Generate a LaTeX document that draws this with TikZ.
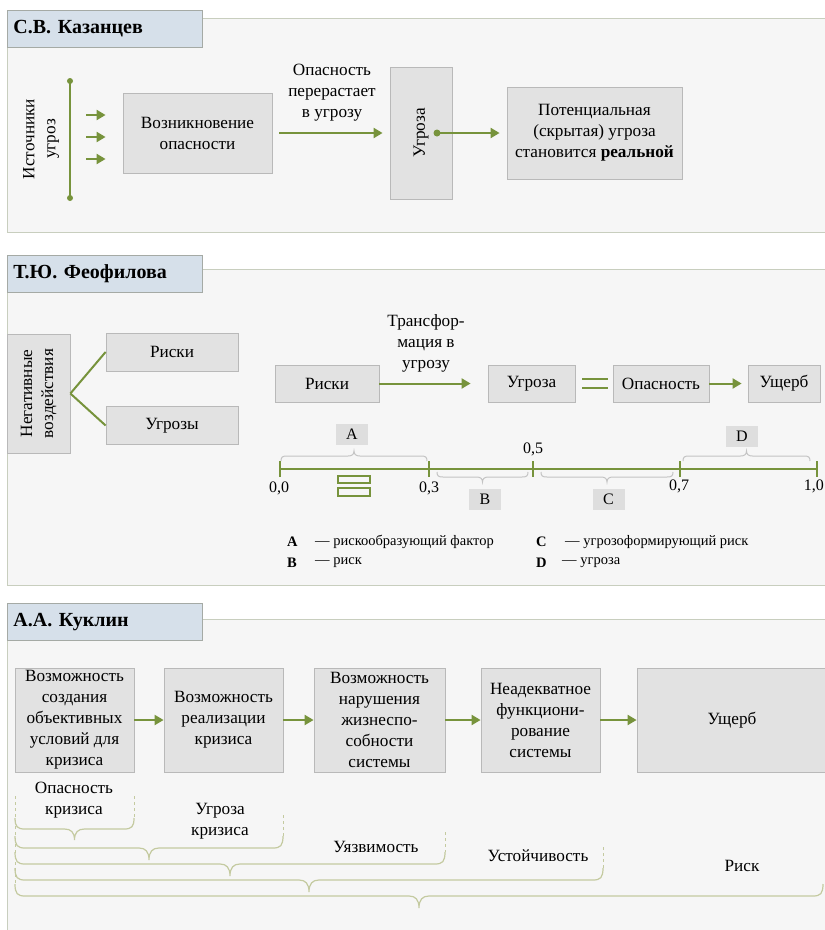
\documentclass[tikz,border=0pt]{standalone}
\usepackage{fontspec}
\setmainfont{Liberation Serif}
\usepackage{xcolor}
\usetikzlibrary{arrows.meta}

\definecolor{arrowgreen}{RGB}{119,147,60}
\definecolor{boxfill}{RGB}{226,226,226}
\definecolor{boxline}{RGB}{185,185,185}
\definecolor{hdrfill}{RGB}{214,224,234}
\definecolor{hdrline}{RGB}{165,170,165}
\definecolor{panelfill}{RGB}{246,246,246}
\definecolor{panelline}{RGB}{200,206,190}
\definecolor{bracegreen}{RGB}{196,202,160}
\definecolor{bracegray}{RGB}{195,195,195}
\definecolor{tagfill}{RGB}{222,222,222}

% curly brace: [style] {left x}{right x}{y of ends}{depth}{curl}
\newcommand{\curly}[6][]{%
  \draw[#1] (#2,#4)
    .. controls (#2,{#4+0.8*(#5)}) and ({#2+0.25*#6},{#4+(#5)}) .. ({#2+#6},{#4+(#5)})
    -- ({(#2+#3)/2-#6},{#4+(#5)})
    .. controls ({(#2+#3)/2-0.35*#6},{#4+(#5)}) and ({(#2+#3)/2},{#4+1.3*(#5)}) .. ({(#2+#3)/2},{#4+2*(#5)})
    .. controls ({(#2+#3)/2},{#4+1.3*(#5)}) and ({(#2+#3)/2+0.35*#6},{#4+(#5)}) .. ({(#2+#3)/2+#6},{#4+(#5)})
    -- ({#3-#6},{#4+(#5)})
    .. controls ({#3-0.25*#6},{#4+(#5)}) and (#3,{#4+0.8*(#5)}) .. (#3,#4);}

\begin{document}
\begin{tikzpicture}[x=1pt, y=-1pt,
        gbox/.style={draw=boxline, fill=boxfill, align=center, inner sep=0pt, line width=0.8pt,
            font=\fontsize{17.2}{21}\selectfont},
        hdr/.style={draw=hdrline, fill=hdrfill, anchor=north west, minimum width=195, minimum height=37,
            text width=183, align=left, inner sep=6pt, line width=0.8pt, font=\fontsize{20}{22}\bfseries\selectfont},
        txt/.style={align=center, inner sep=0pt, font=\fontsize{17.2}{21}\selectfont},
        lbl/.style={inner sep=0pt, font=\fontsize{16}{18}\selectfont},
        leg/.style={anchor=west, inner sep=0pt, font=\fontsize{14.5}{17}\selectfont},
        tag/.style={fill=tagfill, minimum width=32, minimum height=21, inner sep=0pt, font=\fontsize{16}{18}\selectfont},
        garrow/.style={draw=arrowgreen, line width=2pt, -{Triangle[length=9pt, width=10pt]}},
        gline/.style={draw=arrowgreen, line width=2pt},
        kbr/.style={draw=bracegreen, line width=1.2pt},
        sbr/.style={draw=bracegray, line width=1pt},
        kdash/.style={draw=bracegreen, line width=1pt, dashed}
    ]
    \path[use as bounding box, fill=white] (0,0) rectangle (825,930);

    \fill[panelfill] (7,18) rectangle (825,232);
    \draw[panelline, line width=1pt] (825,18) -- (7,18) -- (7,232) -- (825,232);
    \fill[panelfill] (7,269) rectangle (825,585);
    \draw[panelline, line width=1pt] (825,269) -- (7,269) -- (7,585) -- (825,585);
    \fill[panelfill] (7,619) rectangle (825,930);
    \draw[panelline, line width=1pt] (825,619) -- (7,619) -- (7,930);

    \node[hdr] (kaz) at (7,10) {С.В. Казанцев};
    \node[hdr] (feo) at (7,255) {Т.Ю. Феофилова};
    \node[hdr] (kuk) at (7,603) {А.А. Куклин};

    \node[txt, rotate=90] (src) at (41,139) {Источники\\угроз};
    \coordinate (srctop) at (70,81);
    \coordinate (srcbot) at (70,198);
    \draw[gline] (srctop) -- (srcbot);
    \fill[arrowgreen] (srctop) circle (3) (srcbot) circle (3);
    \node[gbox, minimum width=149, minimum height=80] (poz) at (197.5,133) {Возникновение\\опасности};
    \foreach \y [count=\i] in {115,137,159}
        {\coordinate (in\i) at (86,\y);
         \draw[garrow, shorten >=17pt] (in\i) -- (in\i -| poz.west);}
    \node[txt] (perr) at (332,93) {Опасность\\перерастает\\в угрозу};
    \node[gbox, minimum width=62, minimum height=132] (ugr) at (421,133) {\rotatebox{90}{Угроза}};
    \node[gbox, minimum width=175, minimum height=92] (pot) at (594.5,133)
        {Потенциальная\\(скрытая) угроза\\становится \textbf{реальной}};
    \draw[garrow, shorten <=7pt, shorten >=7pt] (poz) -- (ugr);
    \coordinate (udot) at (437,133);
    \fill[arrowgreen] (udot) circle (3.5);
    \draw[garrow, shorten >=7pt] (udot) -- (pot);

    \node[gbox, minimum width=63, minimum height=119] (neg) at (38.5,393.5)
        {\rotatebox{90}{\begin{tabular}{@{}c@{}}Негативные\\воздействия\end{tabular}}};
    \node[gbox, minimum width=132, minimum height=38] (risk1) at (172,352) {Риски};
    \node[gbox, minimum width=132, minimum height=38] (ugrozy) at (172,425.5) {Угрозы};
    \draw[gline] (neg.east) -- (risk1.west);
    \draw[gline] (neg.east) -- (ugrozy.west);
    \node[gbox, minimum width=104, minimum height=37] (risk2) at (327,383.5) {Риски};
    \node[txt] (trans) at (426,343) {Трансфор-\\мация в\\угрозу};
    \node[gbox, minimum width=87, minimum height=37] (ugr2) at (531.5,383.5) {Угроза};
    \node[gbox, minimum width=96, minimum height=37] (opas) at (661,383.5) {Опасность};
    \node[gbox, minimum width=72, minimum height=37] (usch) at (784,383.5) {Ущерб};
    \draw[garrow, shorten >=17pt] (risk2) -- (ugr2);
    \draw[gline, shorten <=7pt, shorten >=5pt] ([yshift=4.5pt]ugr2.east) -- ([yshift=4.5pt]opas.west);
    \draw[gline, shorten <=7pt, shorten >=5pt] ([yshift=-4.5pt]ugr2.east) -- ([yshift=-4.5pt]opas.west);
    \draw[garrow, shorten >=6pt] (opas) -- (usch);

    \coordinate (s0) at (280,469);
    \coordinate (s3) at (429,469);
    \coordinate (s5) at (533,469);
    \coordinate (s7) at (680,469);
    \coordinate (s10) at (817,469);
    \draw[arrowgreen, line width=1.6pt] (s0) -- (s10);
    \foreach \p in {s0,s3,s5,s7,s10}
        \draw[arrowgreen, line width=1.6pt] ([yshift=8pt]\p) -- ([yshift=-8pt]\p);
    \node[lbl] (v0) at (279,488) {0,0};
    \node[lbl] (v3) at (429,488) {0,3};
    \node[lbl] (v5) at (533,449) {0,5};
    \node[lbl] (v7) at (679,486) {0,7};
    \node[lbl, anchor=east] (v10) at (824,486) {1,0};
    \draw[arrowgreen, line width=1.6pt] (338,476) rectangle (370,483);
    \draw[arrowgreen, line width=1.6pt] (338,488) rectangle (370,496);
    \curly[sbr]{281}{427}{461}{-5}{6}
    \curly[sbr]{437}{528}{472}{5}{6}
    \curly[sbr]{541}{673}{472}{5}{6}
    \curly[sbr]{683}{810}{461}{-5}{6}
    \node[tag] (tagA) at (352,434.5) {A};
    \node[tag] (tagB) at (485,499) {B};
    \node[tag] (tagC) at (608.5,499) {C};
    \node[tag] (tagD) at (742,436.5) {D};
    \node[leg] (legA) at (287,542) {\textbf{A}};
    \node[leg] (legAt) at (315,542) {— рискообразующий фактор};
    \node[leg] (legB) at (287,563) {\textbf{B}};
    \node[leg] (legBt) at (315,563) {— риск};
    \node[leg] (legC) at (536,542) {\textbf{C}};
    \node[leg] (legCt) at (565,542) {— угрозоформирующий риск};
    \node[leg] (legD) at (536,563) {\textbf{D}};
    \node[leg] (legDt) at (562,563) {— угроза};

    \node[gbox, minimum width=119, minimum height=104] (k1) at (74.5,720)
        {Возможность\\создания\\объективных\\условий для\\кризиса};
    \node[gbox, minimum width=119, minimum height=104] (k2) at (223.5,720) {Возможность\\реализации\\кризиса};
    \node[gbox, minimum width=131, minimum height=104] (k3) at (379.5,720)
        {Возможность\\нарушения\\жизнеспо-\\собности\\системы};
    \node[gbox, minimum width=119, minimum height=104] (k4) at (540.5,720)
        {Неадекватное\\функциони-\\рование\\системы};
    \node[gbox, minimum width=190, minimum height=104] (k5) at (732,720) {Ущерб};
    \foreach \a/\b in {k1/k2,k2/k3,k3/k4,k4/k5}
        \draw[garrow] (\a) -- (\b);

    \draw[kdash] (15,796) -- (15,884);
    \draw[kdash] (134,796) -- (134,818);
    \draw[kdash] (283,815) -- (283,836);
    \draw[kdash] (445,832) -- (445,852);
    \draw[kdash] (603,847) -- (603,868);
    \curly[kbr]{15}{134}{818}{11}{10}
    \curly[kbr]{15}{283}{836}{12}{10}
    \curly[kbr]{15}{445}{852}{12}{10}
    \curly[kbr]{15}{603}{868}{12}{10}
    \curly[kbr]{15}{823}{884}{12}{10}
    \node[txt] (lop) at (74,800.5) {Опасность\\кризиса};
    \node[txt] (lug) at (220,821) {Угроза\\кризиса};
    \node[txt] (luz) at (376,847) {Уязвимость};
    \node[txt] (lust) at (538,856) {Устойчивость};
    \node[txt] (lrisk) at (742,866) {Риск};
\end{tikzpicture}
\end{document}
